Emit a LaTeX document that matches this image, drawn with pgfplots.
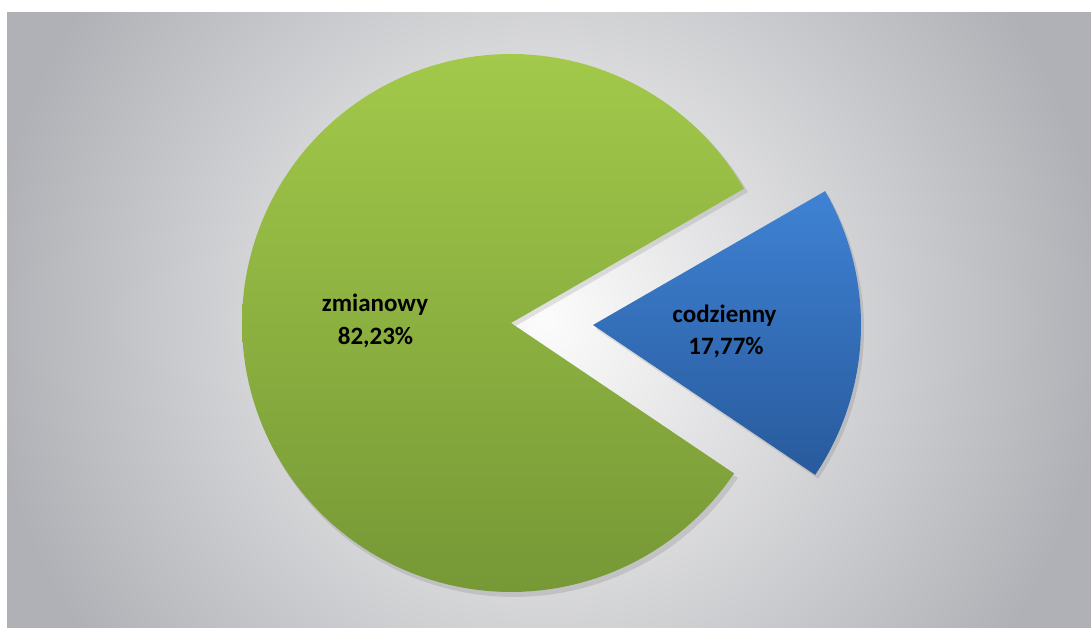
\documentclass[border=0pt]{standalone}
\usepackage{pgfplots}
\pgfplotsset{compat=1.18}
\usepackage{fontspec}
\setmainfont{Carlito}
\definecolor{bgout}{RGB}{176,177,182}
\definecolor{bgin}{RGB}{252,252,252}
\definecolor{gtop}{RGB}{162,201,74}
\definecolor{gbot}{RGB}{118,152,54}
\definecolor{btop}{RGB}{63,130,212}
\definecolor{bbot}{RGB}{40,90,156}
\begin{document}
\begin{tikzpicture}
% slice shares (percent)
\pgfmathsetmacro{\pA}{17.77}% codzienny
\pgfmathsetmacro{\pB}{82.23}% zmianowy
\pgfmathsetmacro{\sA}{-34}
\pgfmathsetmacro{\eA}{\sA+3.6*\pA}
\pgfmathsetmacro{\eB}{\eA+3.6*\pB}
\begin{axis}[x=1pt,y=1pt,xmin=0,xmax=1091,ymin=0,ymax=628,hide axis,clip=false]
\begin{scope}
\clip (axis cs:0,0) rectangle (axis cs:1091,628);
\fill[bgout] (axis cs:0,0) rectangle (axis cs:1091,628);
\shade[inner color=bgin, outer color=bgout] (axis cs:545,308) circle[radius=560pt];
\end{scope}
\fill[white] (axis cs:0,616) rectangle (axis cs:1091,628);
\fill[white] (axis cs:0,0) rectangle (axis cs:7,628);
% shadows
\addplot[fill=black, opacity=0.10, draw=none, domain=\eA:\eB, samples=150, variable=\t]
  ({514+270*cos(\t)},{301+270*sin(\t)}) -- (axis cs:514,301) -- cycle;
\addplot[fill=black, opacity=0.10, draw=none, domain=\sA:\eA, samples=60, variable=\t]
  ({596+268*cos(\t)},{299+268*sin(\t)}) -- (axis cs:596,299) -- cycle;
% zmianowy
\addplot[top color=gtop, bottom color=gbot, draw=none, domain=\eA:\eB, samples=150, variable=\t]
  ({511+269*cos(\t)},{305+269*sin(\t)}) -- (axis cs:511,305) -- cycle;
% codzienny (exploded)
\addplot[top color=btop, bottom color=bbot, draw=none, domain=\sA:\eA, samples=60, variable=\t]
  ({593+268*cos(\t)},{303+268*sin(\t)}) -- (axis cs:593,303) -- cycle;
\node[font=\bfseries\fontsize{25}{30}\selectfont, anchor=base] at (axis cs:375,316) {zmianowy};
\node[font=\bfseries\fontsize{25}{30}\selectfont, anchor=base] at (axis cs:375.5,283) {82,23\%};
\node[font=\bfseries\fontsize{25}{30}\selectfont, anchor=base] at (axis cs:724.5,305) {codzienny};
\node[font=\bfseries\fontsize{25}{30}\selectfont, anchor=base] at (axis cs:726,273) {17,77\%};
\end{axis}
\end{tikzpicture}
\end{document}
